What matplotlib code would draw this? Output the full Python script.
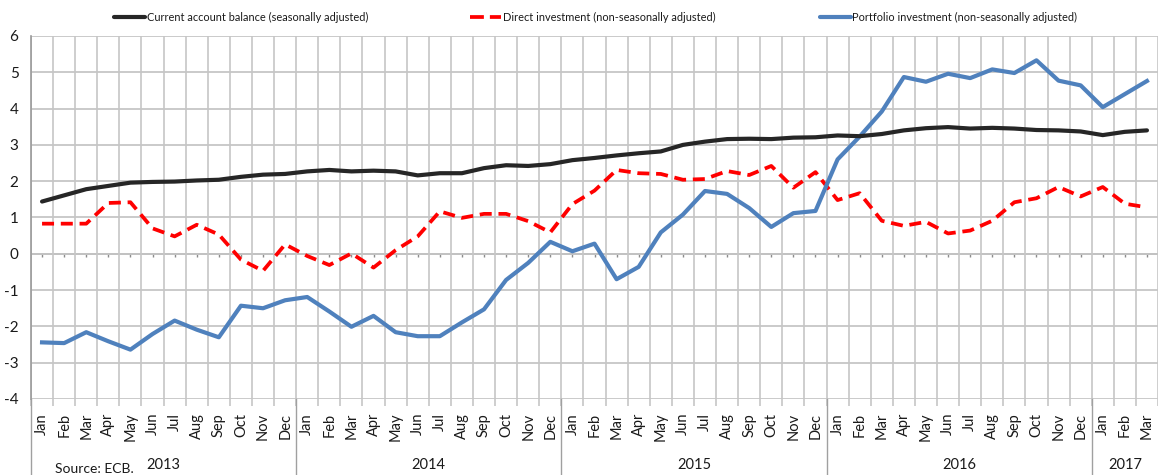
import matplotlib
matplotlib.use("Agg")
import matplotlib.pyplot as plt
from matplotlib import font_manager
from matplotlib.lines import Line2D
import matplotlib.transforms as mtransforms

# ---------------- data ----------------
months = ["Jan", "Feb", "Mar", "Apr", "May", "Jun", "Jul", "Aug", "Sep", "Oct", "Nov", "Dec"] * 4 + ["Jan", "Feb", "Mar"]
years = ["2013", "2014", "2015", "2016", "2017"]
year_lengths = [12, 12, 12, 12, 3]

current_account = [1.44, 1.61, 1.78, 1.87, 1.96, 1.98, 1.99, 2.02, 2.04, 2.12, 2.18, 2.20,
                   2.27, 2.31, 2.27, 2.29, 2.27, 2.16, 2.22, 2.22, 2.36, 2.44, 2.42, 2.47,
                   2.58, 2.64, 2.71, 2.77, 2.82, 3.00, 3.09, 3.16, 3.17, 3.16, 3.20, 3.21,
                   3.26, 3.24, 3.30, 3.40, 3.46, 3.49, 3.45, 3.47, 3.45, 3.41, 3.40, 3.37,
                   3.27, 3.36, 3.40]
direct_investment = [0.83, 0.83, 0.83, 1.40, 1.42, 0.70, 0.48, 0.80, 0.53, -0.16, -0.47, 0.26,
                     -0.06, -0.31, 0.01, -0.38, 0.10, 0.48, 1.17, 0.99, 1.10, 1.10, 0.90, 0.59,
                     1.37, 1.74, 2.31, 2.22, 2.20, 2.04, 2.06, 2.28, 2.17, 2.42, 1.82, 2.25,
                     1.48, 1.67, 0.91, 0.77, 0.88, 0.56, 0.64, 0.91, 1.42, 1.53, 1.84, 1.58,
                     1.84, 1.38, 1.28]
portfolio_investment = [-2.44, -2.46, -2.16, -2.41, -2.64, -2.21, -1.84, -2.09, -2.30, -1.43, -1.50, -1.28,
                        -1.19, -1.59, -2.01, -1.71, -2.16, -2.27, -2.27, -1.89, -1.53, -0.72, -0.25, 0.33,
                        0.07, 0.28, -0.70, -0.36, 0.59, 1.08, 1.73, 1.65, 1.26, 0.74, 1.12, 1.18,
                        2.60, 3.23, 3.92, 4.87, 4.74, 4.96, 4.84, 5.08, 4.98, 5.33, 4.77, 4.64,
                        4.04, 4.40, 4.76]
series_names = ["Current account balance (seasonally adjusted)",
                "Direct investment (non-seasonally adjusted)",
                "Portfolio investment (non-seasonally adjusted)"]
yticks = [-4, -3, -2, -1, 0, 1, 2, 3, 4, 5, 6]
source_text = "Source: ECB."

# ---------------- font ----------------
available = {f.name for f in font_manager.fontManager.ttflist}
family = "DejaVu Sans"
for cand in ["Liberation Sans Narrow", "Lato", "Liberation Sans"]:
    if cand in available:
        family = cand
        break
plt.rcParams["font.family"] = [family, "DejaVu Sans"]

W, H = 1158, 475
fig = plt.figure(figsize=(W / 100, H / 100), dpi=100)
left, right, top, bottom = 31, 1158, 36, 399
ax = fig.add_axes([left / W, 1 - bottom / H, (right - left) / W, (bottom - top) / H])

x = list(range(len(months)))
n = len(x)

grid_col = "#c6c6c6"
text_col = "#1a1a1a"
ax.set_xlim(-0.5, n - 0.5)
ax.set_ylim(-4, 6)
ax.set_yticks(yticks)
ax.set_yticklabels([str(v) for v in yticks], fontsize=11, color=text_col)
ax.tick_params(axis="y", length=0, pad=9)

ax.set_xticks(x)
ax.set_xticklabels(months, rotation=90, fontsize=10.5, color=text_col, va="top", ha="center")
ax.tick_params(axis="x", which="major", length=0, pad=10)
ax.set_xticks([i - 0.5 for i in range(n + 1)], minor=True)
ax.tick_params(axis="x", which="minor", length=5, color=grid_col, width=1.2)

ax.grid(axis="y", which="major", color=grid_col, linewidth=1.3, zorder=0)
ax.grid(axis="x", which="minor", color=grid_col, linewidth=1.2, zorder=0)
for s in ["top", "right", "bottom"]:
    ax.spines[s].set_visible(False)
ax.spines["left"].set_color("#9a9a9a")
ax.spines["left"].set_linewidth(1.2)

# zero line with centre ticks
ax.axhline(0, color="#8c8c8c", linewidth=1.2, zorder=1)
ax.vlines(x, -0.1, 0, color="#8c8c8c", linewidth=1.0, zorder=1)

# series
l1, = ax.plot(x, current_account, color="#262626", linewidth=3.0, solid_capstyle="round", zorder=4)
l2, = ax.plot(x, direct_investment, color="#ff0000", linewidth=2.7, linestyle=(0, (3.2, 1.8)), zorder=3)
l3, = ax.plot(x, portfolio_investment, color="#4f81bd", linewidth=3.0, zorder=3)

# year separators and labels
trans = mtransforms.blended_transform_factory(ax.transData, ax.transAxes)
start = 0
bounds = [-0.5]
for yr, ln in zip(years, year_lengths):
    centre = start + (ln - 1) / 2
    ax.text(centre, -0.182, yr, transform=trans, ha="center", va="center", fontsize=10.5, color=text_col)
    start += ln
    bounds.append(start - 0.5)
for b in bounds[:-1]:
    ax.add_line(Line2D([b, b], [0, -0.3], transform=trans, color="#a0a0a0", linewidth=1.0, clip_on=False))

fig.text(55 / W, 1 - 469 / H, source_text, fontsize=10, color=text_col, ha="left", va="center")

# legend (manual placement)
legend_items = [(l1, 114, 145, 147), (l2, 470, 501, 503), (l3, 820, 851, 852)]
ly = 1 - 17 / H
for (line, x0, x1, tx), name in zip(legend_items, series_names):
    fig.add_artist(Line2D([x0 / W, x1 / W], [ly, ly], transform=fig.transFigure,
                          color=line.get_color(), linewidth=line.get_linewidth(),
                          linestyle=line.get_linestyle(), solid_capstyle="round"))
    fig.text(tx / W, ly, name, fontsize=7.9, color=text_col, ha="left", va="center")

fig.savefig("out.png", dpi=100)
